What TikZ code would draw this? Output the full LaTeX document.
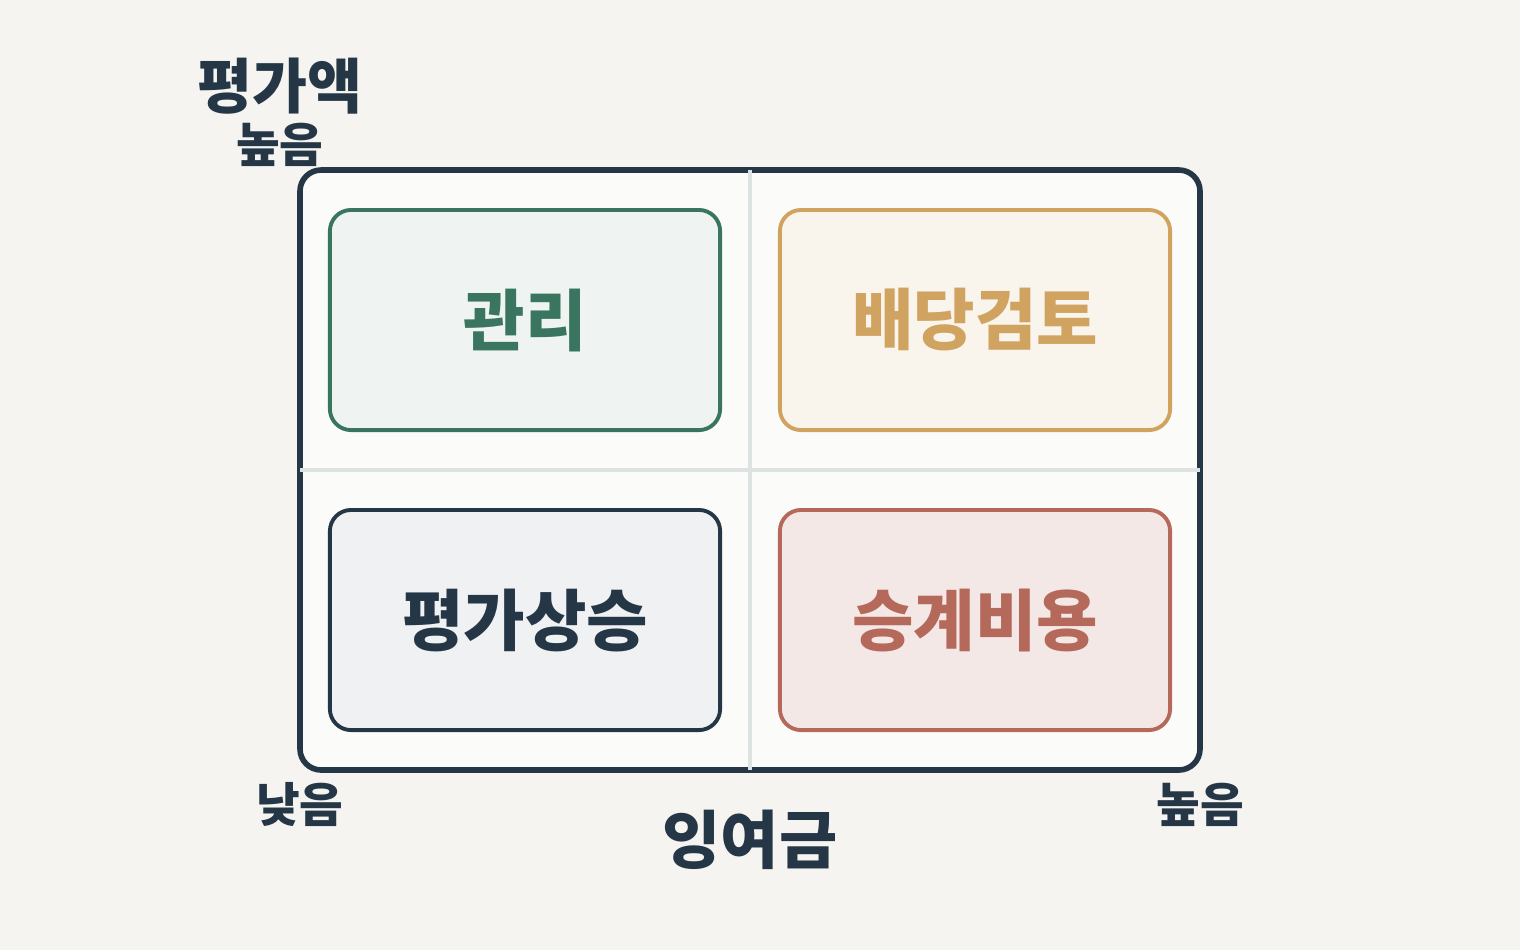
\documentclass[tikz,border=0pt]{standalone}
\usepackage{fontspec}
\setmainfont{Noto Sans CJK KR}
\usetikzlibrary{positioning}
\definecolor{bgc}{HTML}{F5F4F0}
\definecolor{ink}{HTML}{253746}
\definecolor{grid}{HTML}{DDE3E3}
\definecolor{mgreen}{HTML}{3A7560}
\definecolor{mgold}{HTML}{D0A460}
\definecolor{mred}{HTML}{B5695A}

\begin{document}
\begin{tikzpicture}[
    x=0.01cm, y=-0.01cm,
    cell/.style={draw, line width=1.1pt, rounded corners=6pt, minimum width=3.9cm, minimum height=2.2cm, font=\fontsize{19}{19}\selectfont\bfseries},
    axis/.style={text=ink, font=\bfseries}
]
\useasboundingbox[fill=bgc] (0,0) rectangle (1520,950);

% Frame
\draw[ink, line width=1.6pt, fill=white!60!bgc, rounded corners=6pt] (300,170) rectangle (1200,770);
\draw[grid, line width=1pt] (750,170) -- (750,770);
\draw[grid, line width=1pt] (300,470) -- (1200,470);

% Quadrants
\node[cell, draw=mgreen, fill=mgreen!8, text=mgreen] (mgmt) at (525,320) {관리};
\node[cell, draw=mgold, fill=mgold!12, text=mgold] (div) at (975,320) {배당검토};
\node[cell, draw=ink, fill=ink!7, text=ink] (rise) at (525,620) {평가상승};
\node[cell, draw=mred, fill=mred!15, text=mred] (cost) at (975,620) {승계비용};

% Axis labels
\node[axis, font=\fontsize{17}{17}\selectfont\bfseries] (ylab) at (280,86) {평가액};
\node[axis, font=\fontsize{13.5}{13.5}\selectfont\bfseries] (yhigh) at (280,145) {높음};
\node[axis, font=\fontsize{13.5}{13.5}\selectfont\bfseries] (xlow) at (300,805) {낮음};
\node[axis, font=\fontsize{13.5}{13.5}\selectfont\bfseries] (xhigh) at (1200,805) {높음};
\node[axis, font=\fontsize{18}{18}\selectfont\bfseries] (xlab) at (750,840) {잉여금};

\end{tikzpicture}
\end{document}
